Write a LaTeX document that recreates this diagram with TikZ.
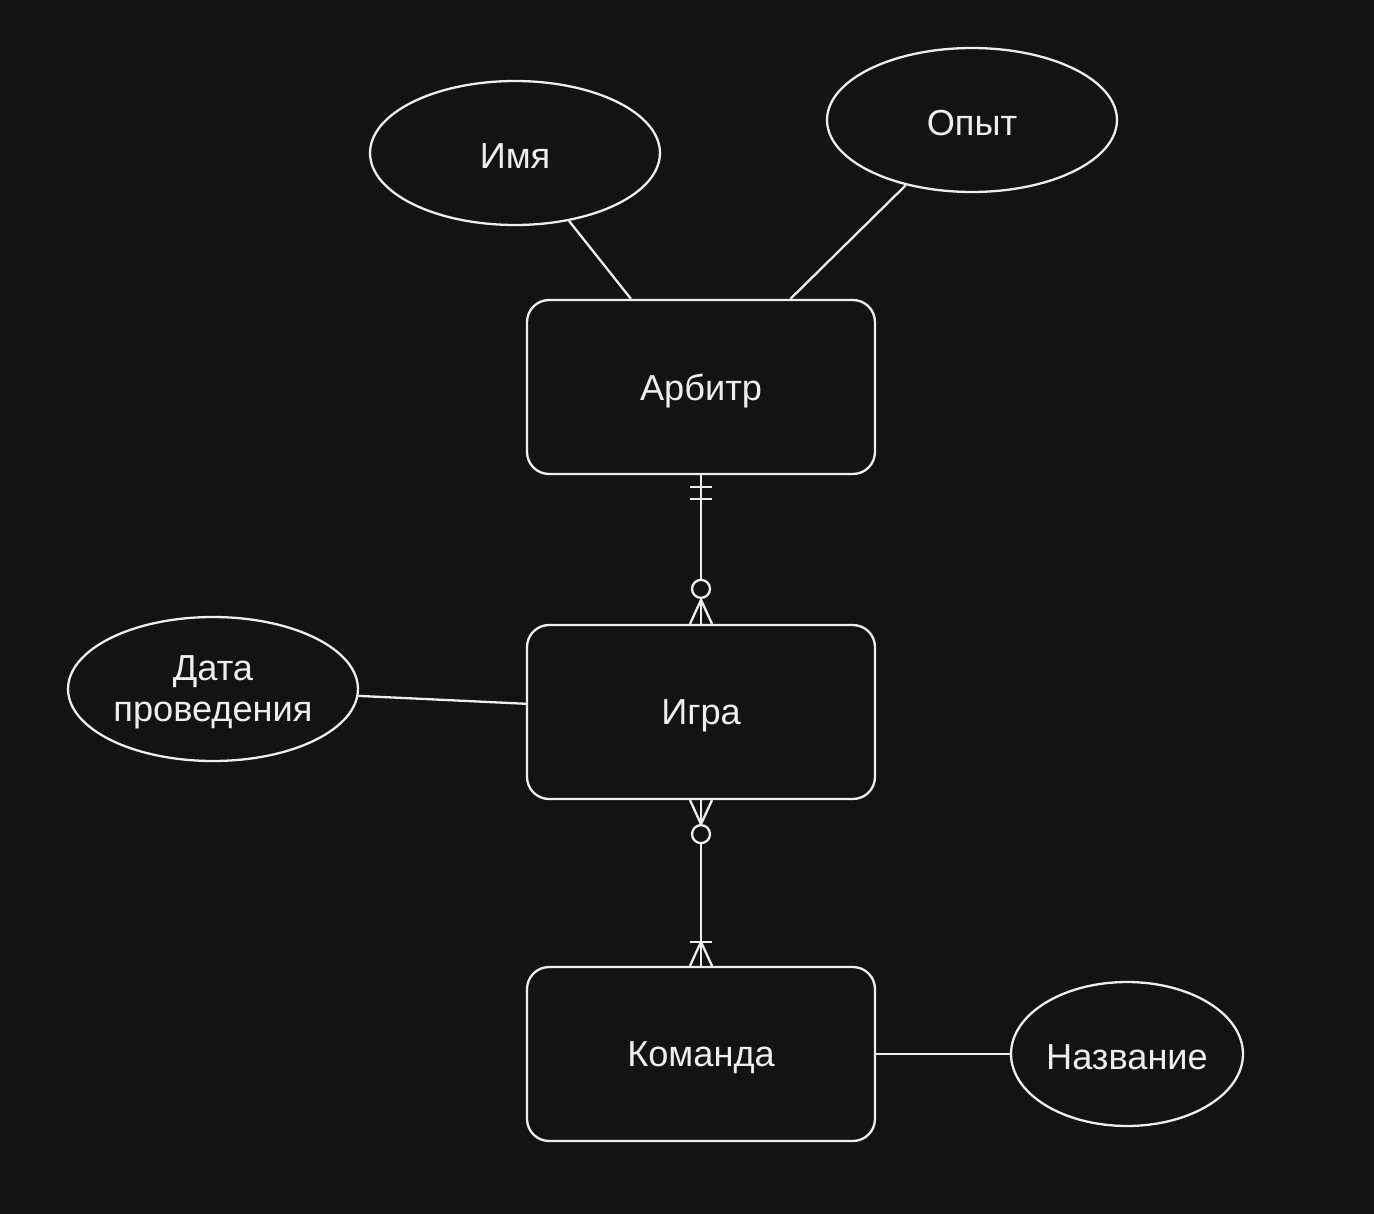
\documentclass[tikz,border=0pt]{standalone}
\usepackage{fontspec}
\setmainfont{Liberation Sans}
\usetikzlibrary{shapes.geometric,calc}
\definecolor{bg}{HTML}{131313}
\definecolor{fg}{HTML}{EEEEEE}
\begin{document}
\begin{tikzpicture}[x=0.02cm,y=-0.02cm,
  lbl/.style={text=fg,font=\fontsize{20.6}{23}\selectfont,align=center,yshift=-0.07cm,inner sep=0pt},
  entity/.style={draw=fg,line width=0.046cm,rounded corners=0.44cm,minimum width=6.96cm,minimum height=3.48cm,fill=bg},
  attr/.style={draw=fg,line width=0.046cm,ellipse,minimum width=5.8cm,minimum height=2.88cm,inner sep=0pt,fill=bg},
  conn/.style={draw=fg,line width=0.046cm},
  circ/.style={draw=fg,line width=0.046cm,fill=bg}]
\fill[bg] (0,0) rectangle (1374,1214);
\useasboundingbox (0,0) rectangle (1374,1214);
\coordinate (cimya) at (515,153);
\coordinate (copyt) at (972,120);
\coordinate (carb) at (701,387);
\coordinate (cigra) at (701,712);
\coordinate (cdata) at (213,689);
\coordinate (ckom) at (701,1054);
\coordinate (cnaz) at (1127,1054);
\node[attr,label={[lbl]center:Имя}] (imya) at (cimya) {};
\node[attr,label={[lbl]center:Опыт}] (opyt) at (copyt) {};
\node[entity,label={[lbl]center:Арбитр}] (arb) at (carb) {};
\node[entity,label={[lbl]center:Игра}] (igra) at (cigra) {};
\node[attr,label={[lbl]center:Дата\\проведения}] (data) at (cdata) {};
\node[entity,label={[lbl]center:Команда}] (kom) at (ckom) {};
\node[attr,minimum width=4.64cm,label={[lbl]center:Название}] (naz) at (cnaz) {};
\draw[conn] (imya) -- (arb);
\draw[conn] (opyt) -- (arb);
\draw[conn] (data) -- (igra);
\draw[conn] (kom) -- (naz);
% Арбитр -- Игра
\draw[conn] (arb.south) -- (igra.north);
\draw[conn] ($(arb.south)+(-11,12)$) -- ($(arb.south)+(11,12)$);
\draw[conn] ($(arb.south)+(-11,24)$) -- ($(arb.south)+(11,24)$);
\draw[conn] ($(igra.north)+(-11,0)$) -- ($(igra.north)+(0,-24)$) -- ($(igra.north)+(11,0)$);
\draw[circ] ($(igra.north)+(0,-35)$) circle[radius=0.18cm];
% Игра -- Команда
\draw[conn] (igra.south) -- (kom.north);
\draw[conn] ($(igra.south)+(-11,0)$) -- ($(igra.south)+(0,24)$) -- ($(igra.south)+(11,0)$);
\draw[circ] ($(igra.south)+(0,34)$) circle[radius=0.18cm];
\draw[conn] ($(kom.north)+(-11,-24)$) -- ($(kom.north)+(11,-24)$);
\draw[conn] ($(kom.north)+(-11,0)$) -- ($(kom.north)+(0,-24)$) -- ($(kom.north)+(11,0)$);
\end{tikzpicture}
\end{document}
